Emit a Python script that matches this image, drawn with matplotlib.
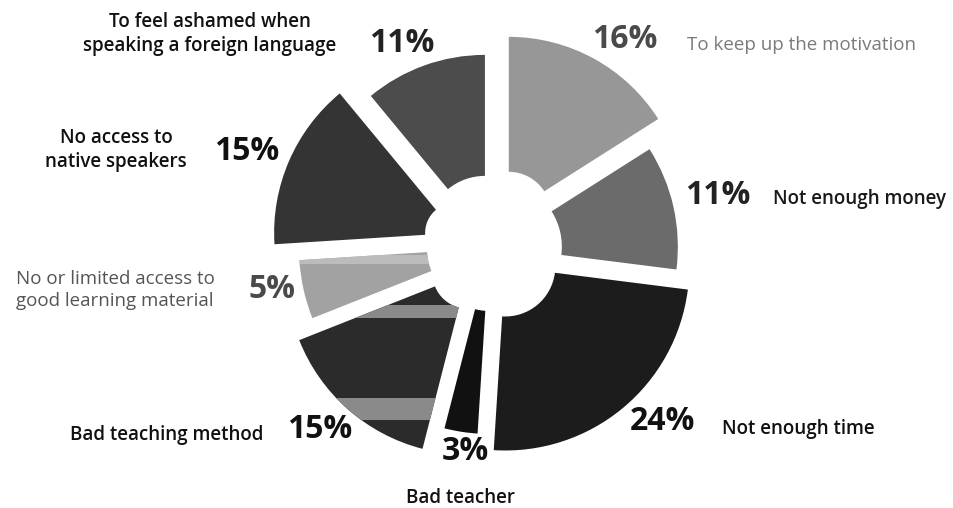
import numpy as np
import matplotlib.pyplot as plt

# reasons, clockwise from 12 o'clock
labels = ["To keep up the motivation", "Not enough money", "Not enough time",
          "Bad teacher", "Bad teaching method",
          "No or limited access to\ngood learning material",
          "No access to\nnative speakers",
          "To feel ashamed when\nspeaking a foreign language"]
shares = [16, 11, 24, 3, 15, 5, 15, 11]

colors = ["#979797", "#6b6b6b", "#1c1c1c", "#111111", "#2b2b2b", "#a2a2a2", "#343434", "#4c4c4c"]
# hand drawn look: every wedge has its own offset and size (px)
explode = [39, 6, 24, 8, 34, 1, 38, 15]
outer = [177, 182, 184, 178, 181, 190, 181, 179]
inner = [42, 66, 50, 55, 35, 62, 30, 58]

W, H = 954, 508
cx, cy = 490, 248

fig = plt.figure(figsize=(W / 100, H / 100), dpi=100)
ax = fig.add_axes([0, 0, 1, 1])

wedges, _ = ax.pie(shares, colors=colors, explode=explode, startangle=90, counterclock=False,
                   center=(cx, H - cy), radius=180, wedgeprops=dict(linewidth=0))
for w, r, ri in zip(wedges, outer, inner):
    w.set_radius(r)
    w.set_width(r - ri)

# light bands on the "bad teaching method" and "limited access" wedges
for k, y0, y1, c in [(4, 305, 318, "#8a8a8a"), (4, 398, 420, "#8a8a8a"), (5, 255, 264, "#bcbcbc")]:
    band = ax.axhspan(H - y1, H - y0, color=c, lw=0, zorder=3)
    band.set_clip_path(wedges[k])

ax.set_xlim(0, W)
ax.set_ylim(0, H)
ax.set_aspect("auto")
ax.axis("off")

pct_pos = [(625, 40), (718, 196), (663, 422), (465, 452), (320, 430), (272, 290), (247, 152), (402, 44)]
pct_col = ["#4a4a4a", "#222222", "#111111", "#111111", "#111111", "#4a4a4a", "#111111", "#222222"]
for s, (x, y), c in zip(shares, pct_pos, pct_col):
    ax.text(x, H - y, f"{s}%", ha="center", va="center", fontsize=23,
            fontweight="bold", family="Open Sans", color=c)

lab_pos = [(687, 45, "left"), (773, 199, "left"), (722, 429, "left"), (461, 498, "center"),
           (263, 435, "right"), (115, 290, "center"), (116, 150, "center"), (210, 34, "center")]
lab_col = ["#7a7a7a", "#1a1a1a", "#111111", "#111111", "#111111", "#555555", "#111111", "#111111"]
for t, (x, y, ha), c in zip(labels, lab_pos, lab_col):
    ax.text(x, H - y, t, ha=ha, va="center", fontsize=13.5, family="Open Sans",
            fontweight="normal" if c in ("#7a7a7a", "#555555") else "semibold",
            color=c, linespacing=1.3)

fig.savefig("out.png", dpi=100)
